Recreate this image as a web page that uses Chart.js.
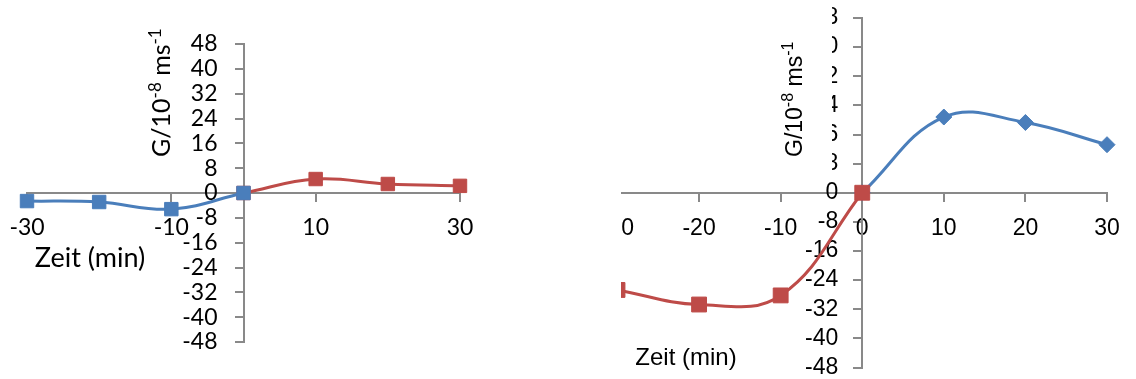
<!DOCTYPE html>
<html>
<head>
<meta charset="utf-8">
<script src="https://cdn.jsdelivr.net/npm/chart.js@4.4.0/dist/chart.umd.min.js"></script>
<style>
  html,body{margin:0;padding:0;background:#fff;}
  body{width:1136px;height:379px;position:relative;overflow:hidden;}
  #left{position:absolute;left:0;top:0;width:560px;height:379px;}
  #rightClip{position:absolute;left:621px;top:0;width:515px;height:379px;overflow:hidden;}
  #right{position:absolute;left:-61px;top:0;width:576px;height:379px;}
</style>
</head>
<body>
<div id="left"><canvas id="chartLeft" width="560" height="379"></canvas></div>
<div id="rightClip"><div id="right"><canvas id="chartRight" width="576" height="379"></canvas></div></div>
<script>
// data
var timeBefore = [-30, -20, -10, 0];
var timeAfter = [0, 10, 20, 30];
var leftBefore = [-2.6, -2.9, -5.2, 0];
var leftAfter = [0, 4.5, 2.9, 2.3];
var rightBefore = [-26.7, -30.7, -28.2, 0];
var rightAfter = [0, 20.8, 19.3, 13.2];
var yRange = [-48, 48];
var yStep = 8;
var xRange = [-30, 30];
var xTitle = 'Zeit (min)';
var yTitle = [{t:'G/10'},{t:'-8',sup:true},{t:' ms'},{t:'-1',sup:true}];

var blue = '#4A7EBB', red = '#BE4B48', axisGray = '#898989';

function toPoints(xs, ys){
    return xs.map(function(x,i){ return {x:x, y:ys[i]}; });
}
//kill the label overhang so chartArea is just canvas minus padding
function noPad(scale){
    scale.paddingLeft = 0; scale.paddingRight = 0;
    scale.paddingTop = 0; scale.paddingBottom = 0;
}
function series(data, color, style, radius){
    return {
        data: data, borderColor: color, backgroundColor: color,
        borderWidth: 3, tension: 0.4, pointStyle: style, clip: false,
        pointRadius: radius, pointBorderWidth: 1, pointBorderColor: color,
        pointBackgroundColor: color
    };
}
function drawYTitle(ctx, x, yBottom, family, size){
    ctx.save();
    ctx.translate(x, yBottom);
    ctx.rotate(-Math.PI/2);
    ctx.fillStyle = '#000';
    ctx.textAlign = 'left';
    ctx.textBaseline = 'alphabetic';
    var cx = 0;
    yTitle.forEach(function(p){
        var s = p.sup ? Math.round(size*0.68) : size;
        ctx.font = s + 'px "' + family + '"';
        ctx.fillText(p.t, cx, p.sup ? -size*0.38 : 0);
        cx += ctx.measureText(p.t).width;
    });
    ctx.restore();
}
function drawXTitle(ctx, cx, cy, family, size){
    ctx.save();
    ctx.fillStyle = '#000';
    ctx.font = size + 'px "' + family + '"';
    ctx.textAlign = 'center';
    ctx.textBaseline = 'middle';
    ctx.fillText(xTitle, cx, cy);
    ctx.restore();
}

function makeChart(id, o){
    var font = {family: o.family, size: o.size};
    return new Chart(document.getElementById(id), {
        type: 'line',
        data: {datasets: o.datasets},
        options: {
            responsive: false, animation: false, devicePixelRatio: 1,
            layout: {padding: o.pad},
            plugins: {legend: {display: false}, tooltip: {enabled: false}},
            scales: {
                x: {
                    type: 'linear', min: xRange[0], max: xRange[1], position: {y: 0},
                    ticks: {stepSize: o.xStep, font: font, color: '#000', padding: o.xPad, maxRotation: 0, autoSkip: false},
                    grid: {drawOnChartArea: false, tickLength: 8, color: axisGray, lineWidth: 2},
                    border: {color: axisGray, width: 2},
                    afterFit: noPad
                },
                y: {
                    type: 'linear', min: yRange[0], max: yRange[1], position: {x: 0},
                    ticks: {stepSize: yStep, font: font, color: '#000', autoSkip: false},
                    grid: {drawOnChartArea: false, tickLength: 8, color: axisGray, lineWidth: 2},
                    border: {color: axisGray, width: 2},
                    afterFit: noPad
                }
            }
        },
        plugins: [{
            //y labels of a crossing axis sit right on the line, push them left
            id: 'shiftY',
            beforeDraw: function(chart){
                var items = chart.scales.y.getLabelItems();
                if(items._shifted) return;
                items.forEach(function(it){ it.options.translation[0] -= o.yShift; });
                items._shifted = true;
            }
        },{id: 'titles', afterDraw: o.titles}]
    });
}

//left chart
makeChart('chartLeft', {
    family: 'Lato', size: 23, xStep: 20, xPad: 13, yShift: 26,
    pad: {left: 27, right: 100, top: 44, bottom: 37},
    datasets: [
        series(toPoints(timeBefore, leftBefore), blue, 'rect', 9.5),
        series(toPoints(timeAfter, leftAfter), red, 'rect', 9.5)
    ],
    titles: function(chart){
        drawYTitle(chart.ctx, 170, 157, 'Lato', 25);
        drawXTitle(chart.ctx, 90, 258, 'Lato', 27);
    }
});

//right chart (canvas starts at page x 560, clipped at 621)
makeChart('chartRight', {
    family: 'Liberation Sans', size: 23, xStep: 10, xPad: 14, yShift: 24,
    pad: {left: 57.5, right: 29, top: 18, bottom: 11},
    datasets: [
        series(toPoints(timeBefore, rightBefore), red, 'rect', 10.5),
        series(toPoints(timeAfter, rightAfter), blue, 'rectRot', 8)
    ],
    titles: function(chart){
        var ctx = chart.ctx;
        ctx.save();
        ctx.fillStyle = '#fff';
        ctx.fillRect(200, 0, 72, 181);
        ctx.restore();
        drawYTitle(ctx, 242, 157, 'Liberation Sans', 23);
        drawXTitle(ctx, 126, 358, 'Liberation Sans', 24);
    }
});
</script>
</body>
</html>
